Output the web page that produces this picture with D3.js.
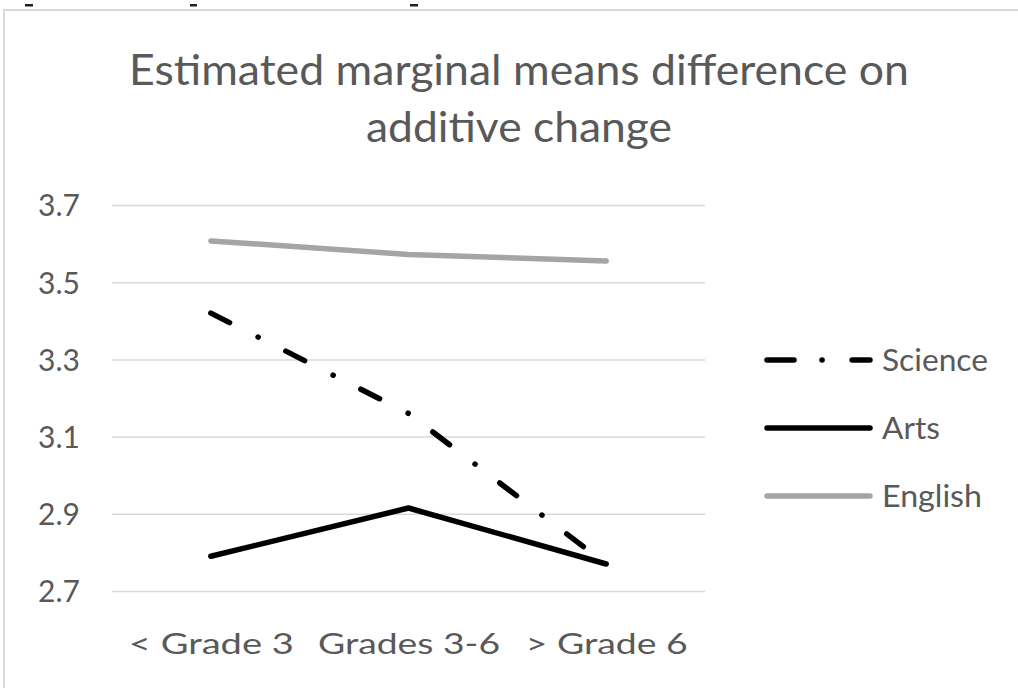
<!DOCTYPE html>
<html>
<head>
<meta charset="utf-8">
<script src="https://cdn.jsdelivr.net/npm/d3@7"></script>
<style>
  html, body { margin: 0; padding: 0; background: #fff; }
  svg { display: block; }
</style>
</head>
<body>
<svg id="chart" width="1018" height="688"></svg>
<script>
const categories = ["< Grade 3", "Grades 3-6", "> Grade 6"];
const scienceValues = [3.42, 3.16, 2.77];
const artsValues = [2.79, 2.915, 2.77];
const englishValues = [3.607, 3.572, 3.555];
const seriesNames = ["Science", "Arts", "English"];
const yTicks = [2.7, 2.9, 3.1, 3.3, 3.5, 3.7];
const titleLines = ["Estimated marginal means difference on", "additive change"];

const FONT = "Lato, 'Open Sans', sans-serif";
const TEXT = "#595959";

const svg = d3.select("#chart");

// outer chart border (partially cropped)
svg.append("rect").attr("x", 4).attr("y", 10).attr("width", 1030).attr("height", 700)
  .attr("fill", "#fff").attr("stroke", "#d9d9d9").attr("stroke-width", 2);

// fragments of cropped text above
[[25, 8], [190, 7], [410, 8]].forEach(([x, w]) => {
  svg.append("rect").attr("x", x).attr("y", 4).attr("width", w).attr("height", 2.5).attr("fill", "#222");
});

const x = d3.scalePoint().domain(categories).range([112, 705]).padding(0.5);
const y = d3.scaleLinear().domain([2.7, 3.7]).range([591, 205]);

function fitWidth(sel, target) {
  sel.attr("textLength", target).attr("lengthAdjust", "spacingAndGlyphs");
}

// title
const title = svg.append("text").attr("text-anchor", "middle")
  .attr("font-family", FONT).attr("font-size", 42).attr("fill", TEXT);
titleLines.forEach((t, i) => {
  title.append("tspan").attr("x", 519).attr("y", 85 + i * 57).text(t);
});
title.selectAll("tspan").each(function(d, i) {
  fitWidth(d3.select(this), i === 0 ? 780 : 306);
});

// gridlines
const grid = svg.append("g")
  .attr("transform", "translate(112,0)")
  .call(d3.axisLeft(y).tickValues(yTicks).tickSize(-593).tickFormat(""));
grid.select(".domain").remove();
grid.selectAll(".tick line").attr("stroke", "#d9d9d9").attr("stroke-width", 1.5);

// y labels
const yAxis = svg.append("g")
  .attr("transform", "translate(80,0)")
  .call(d3.axisLeft(y).tickValues(yTicks).tickSize(0).tickPadding(0).tickFormat(d3.format(".1f")));
yAxis.select(".domain").remove();
yAxis.selectAll("text").attr("font-family", FONT).attr("font-size", 30).attr("fill", TEXT)
  .attr("dy", "0.36em");

// x labels
const xAxis = svg.append("g")
  .attr("transform", "translate(0,625)")
  .call(d3.axisBottom(x).tickSize(0).tickPadding(0));
xAxis.select(".domain").remove();
xAxis.selectAll("text").attr("font-family", FONT).attr("font-size", 29).attr("fill", TEXT)
  .attr("dy", "1em");
const xw = [165, 182, 162];
xAxis.selectAll("text").each(function(d, i) { fitWidth(d3.select(this), xw[i]); });

// series
const series = [
  { name: "Science", values: scienceValues, color: "#000", dash: "21,32,0.1,31" },
  { name: "Arts", values: artsValues, color: "#000", dash: null },
  { name: "English", values: englishValues, color: "#a5a5a5", dash: null }
];
const line = d3.line().x((d, i) => x(categories[i])).y(d => y(d));

[2, 1, 0].forEach(k => {
  const s = series[k];
  svg.append("path").datum(s.values)
    .attr("d", line)
    .attr("fill", "none")
    .attr("stroke", s.color)
    .attr("stroke-width", 5.5)
    .attr("stroke-linecap", "round")
    .attr("stroke-linejoin", "round")
    .attr("stroke-dasharray", s.dash);
});

// legend
const legY = d3.scalePoint().domain(seriesNames).range([360, 496]);
const legW = [106, 58, 100];
series.forEach((s, i) => {
  const ly = legY(s.name);
  svg.append("line").attr("x1", 767).attr("x2", 870).attr("y1", ly).attr("y2", ly)
    .attr("stroke", s.color).attr("stroke-width", 5.5).attr("stroke-linecap", "round")
    .attr("stroke-dasharray", s.dash ? "27,28,0.1,30,20" : null);
  const t = svg.append("text").attr("x", 882).attr("y", ly).attr("dy", "0.36em")
    .attr("font-family", FONT).attr("font-size", 30).attr("fill", TEXT).text(s.name);
  fitWidth(t, legW[i]);
});
</script>
</body>
</html>
